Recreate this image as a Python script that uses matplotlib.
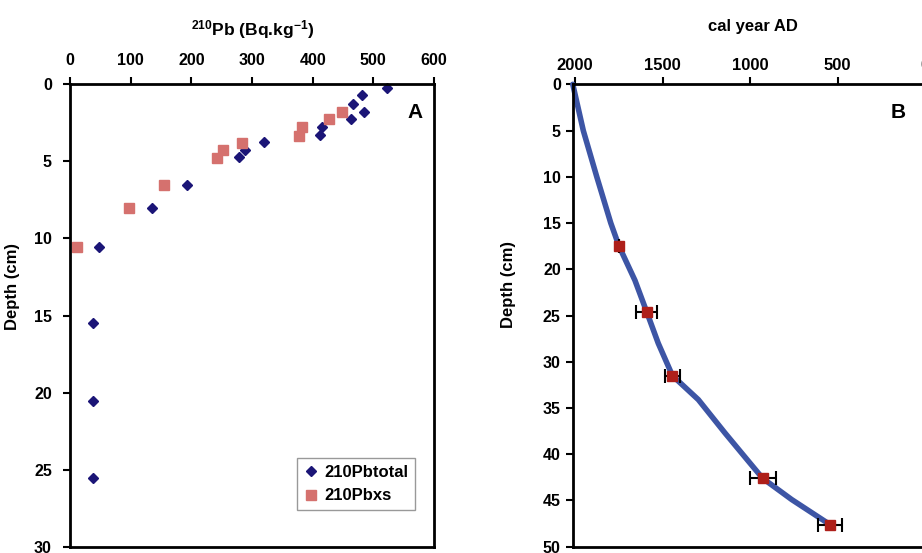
import matplotlib
matplotlib.use("Agg")
import matplotlib.pyplot as plt

plt.rcParams['font.family'] = ['Liberation Sans', 'DejaVu Sans']
plt.rcParams['font.weight'] = 'bold'
plt.rcParams['mathtext.fontset'] = 'custom'
plt.rcParams['mathtext.rm'] = 'Liberation Sans:bold'
plt.rcParams['mathtext.bf'] = 'Liberation Sans:bold'
plt.rcParams['mathtext.default'] = 'bf'

# ---- Panel A data ----
pbtotal_val = [522, 481, 467, 485, 463, 416, 412, 320, 288, 278, 193, 135, 48, 38, 38, 38]
pbtotal_depth = [0.25, 0.72, 1.28, 1.8, 2.23, 2.75, 3.29, 3.74, 4.28, 4.72, 6.51, 8.03, 10.54, 15.51, 20.55, 25.53]
pbxs_val = [449, 427, 382, 377, 283, 253, 242, 155, 98, 12]
pbxs_depth = [1.82, 2.23, 2.75, 3.35, 3.79, 4.28, 4.78, 6.51, 8.03, 10.54]
a_xticks = [0, 100, 200, 300, 400, 500, 600]
a_yticks = [0, 5, 10, 15, 20, 25, 30]

# ---- Panel B data ----
curve_year = [2013, 1953, 1876, 1796, 1749, 1658, 1591, 1525, 1444, 1296, 1144, 1030, 929, 763, 545]
curve_depth = [0, 5, 10, 15, 17.5, 21.2, 24.6, 28.0, 31.5, 34.1, 37.7, 40.3, 42.6, 44.9, 47.6]
date_year = [1749, 1591, 1444, 929, 545]
date_depth = [17.5, 24.6, 31.5, 42.6, 47.6]
date_err = [0, 61, 45, 74, 67]
b_xticks = [2000, 1500, 1000, 500, 0]
b_yticks = [0, 5, 10, 15, 20, 25, 30, 35, 40, 45, 50]

W, H = 922, 553
fig = plt.figure(figsize=(W / 100, H / 100), dpi=100)

def px_axes(x0, y0, x1, y1):
    return fig.add_axes([x0 / W, 1 - y1 / H, (x1 - x0) / W, (y1 - y0) / H])

# ---------- Panel A ----------
axA = px_axes(70, 84.3, 434, 546.7)
axA.plot(pbtotal_val, pbtotal_depth, linestyle='none', marker='D', markersize=5.5,
         color='#1B1577', label='210Pbtotal', clip_on=False)
axA.plot(pbxs_val, pbxs_depth, linestyle='none', marker='s', markersize=7,
         color='#D5716E', label='210Pbxs', clip_on=False)
axA.set_xlim(0, 600)
axA.set_ylim(30, 0)
axA.set_xticks(a_xticks)
axA.set_yticks(a_yticks)
axA.xaxis.tick_top()
axA.tick_params(axis='x', direction='out', length=5, width=1.5, pad=7, labelsize=11.5)
axA.tick_params(axis='y', direction='out', length=5, width=1.5, pad=8, labelsize=11.5)
for s in axA.spines.values():
    s.set_linewidth(2)
axA.set_ylabel('Depth (cm)', fontsize=12, fontweight='bold')
axA.yaxis.set_label_coords(-0.137, 0.563)
axA.text(0.97, 0.96, 'A', transform=axA.transAxes, ha='right', va='top',
         fontsize=15, fontweight='bold')
leg = axA.legend(loc='lower right', bbox_to_anchor=(0.97, 0.061), fontsize=12,
                 frameon=True, fancybox=False, edgecolor='#808080', handlelength=0.8,
                 handletextpad=0.4, borderpad=0.4, labelspacing=0.5)
leg.get_frame().set_linewidth(1)
fig.text(253 / W, 1 - 30 / H, r'$^{210}$Pb (Bq.kg$^{-1}$)', ha='center', va='center',
         fontsize=12.5, fontweight='bold')

# ---------- Panel B ----------
axB = px_axes(573.3, 84.3, 925.3, 546.7)
axB.plot(curve_year, curve_depth, color='#3D55A5', linewidth=4, solid_capstyle='round',
         solid_joinstyle='round', clip_on=False, zorder=2)
axB.errorbar(date_year, date_depth, xerr=date_err, fmt='none', ecolor='black',
             elinewidth=1.5, capsize=5, capthick=1.5, zorder=3)
axB.plot(date_year, date_depth, linestyle='none', marker='s', markersize=7,
         color='#AE1F1A', zorder=4)
axB.set_xlim(2010, 0)
axB.set_ylim(50, 0)
axB.set_xticks(b_xticks)
axB.set_yticks(b_yticks)
axB.xaxis.tick_top()
axB.tick_params(axis='x', direction='out', length=5, width=1.5, pad=3, labelsize=12)
axB.tick_params(axis='y', direction='out', length=5, width=1.5, pad=4, labelsize=11.5)
for s in axB.spines.values():
    s.set_linewidth(2)
axB.set_ylabel('Depth (cm)', fontsize=12, fontweight='bold')
axB.yaxis.set_label_coords(-0.163, 0.568)
axB.text(0.945, 0.96, 'B', transform=axB.transAxes, ha='right', va='top',
         fontsize=15, fontweight='bold')
fig.text(753 / W, 1 - 26 / H, 'cal year AD', ha='center', va='center',
         fontsize=12, fontweight='bold')

fig.savefig('out.png', dpi=100)
